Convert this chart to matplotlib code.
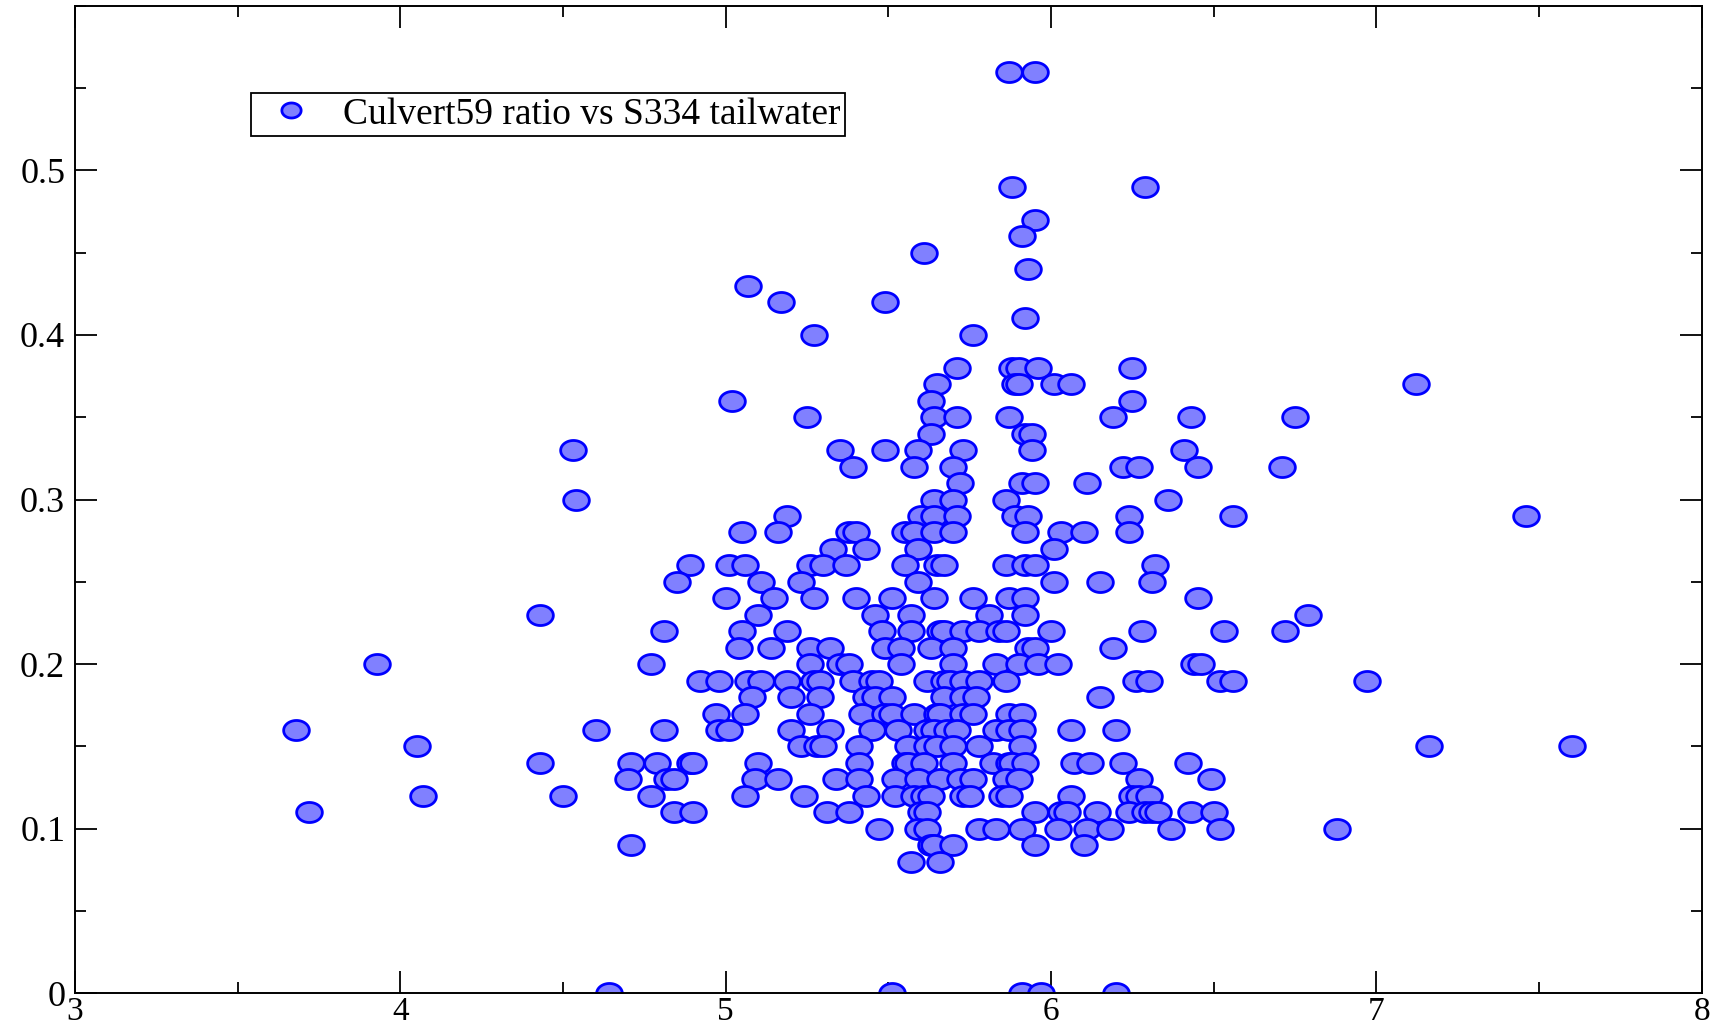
import numpy as np
import matplotlib.pyplot as plt
from matplotlib.path import Path
from matplotlib.ticker import MultipleLocator, FixedLocator, FormatStrFormatter

# S334 tailwater (x) and Culvert59 ratio (y)
tailwater = [
    5.87, 5.95,
    5.88, 6.29,
    5.95,
    5.91,
    5.61,
    5.93,
    5.07,
    5.17, 5.49,
    5.92,
    5.27, 5.76,
    5.71, 5.88, 5.90, 5.96, 6.25,
    5.65, 5.89, 5.90, 6.01, 6.06, 7.12,
    5.02, 5.63, 6.25,
    5.25, 5.64, 5.71, 5.87, 6.19, 6.43, 6.75,
    5.63, 5.92, 5.94,
    4.53, 5.35, 5.49, 5.59, 5.73, 5.94, 6.41,
    5.39, 5.58, 5.70, 6.22, 6.27, 6.45, 6.71,
    5.72, 5.91, 5.95, 6.11,
    4.54, 5.64, 5.70, 5.86, 6.36,
    5.19, 5.60, 5.64, 5.71, 5.89, 5.93, 6.24, 6.56, 7.46,
    5.05, 5.16, 5.38, 5.40, 5.55, 5.58, 5.64, 5.70, 5.92, 6.03, 6.10, 6.24,
    5.33, 5.43, 5.59, 6.01,
    4.89, 5.01, 5.06, 5.26, 5.30, 5.37, 5.55, 5.65, 5.67, 5.86, 5.92, 5.95, 6.32,
    4.85, 5.11, 5.23, 5.59, 6.01, 6.15, 6.31,
    5.00, 5.15, 5.27, 5.40, 5.51, 5.64, 5.76, 5.87, 5.92, 6.45,
    4.43, 5.10, 5.46, 5.57, 5.81, 5.92, 6.79,
    4.81, 5.05, 5.19, 5.48, 5.57, 5.66, 5.67, 5.73, 5.78, 5.84, 5.86, 6.00, 6.28, 6.53, 6.72,
    5.04, 5.14, 5.26, 5.32, 5.49, 5.54, 5.63, 5.70, 5.93, 5.95, 6.19,
    3.93, 4.77, 5.26, 5.35, 5.38, 5.54, 5.70, 5.83, 5.90, 5.96, 6.02, 6.44, 6.46,
    4.92, 4.98, 5.07, 5.11, 5.19, 5.27, 5.29, 5.39, 5.45, 5.47, 5.62, 5.67, 5.69, 5.73,
    5.78, 5.86, 6.26, 6.30, 6.52, 6.56, 6.97,
    5.08, 5.20, 5.29, 5.43, 5.46, 5.51, 5.67, 5.73, 5.77, 6.15,
    4.97, 5.06, 5.26, 5.42, 5.49, 5.51, 5.58, 5.65, 5.66, 5.73, 5.76, 5.87, 5.91,
    3.68, 4.60, 4.81, 4.98, 5.01, 5.20, 5.32, 5.45, 5.53, 5.62, 5.64, 5.68, 5.71, 5.83,
    5.87, 5.91, 6.06, 6.20,
    4.05, 5.23, 5.28, 5.30, 5.41, 5.56, 5.62, 5.65, 5.70, 5.78, 5.91, 7.16, 7.60,
    4.43, 4.71, 4.79, 4.89, 4.90, 5.10, 5.41, 5.55, 5.56, 5.61, 5.70, 5.82, 5.87, 5.88,
    5.92, 6.07, 6.12, 6.22, 6.42,
    4.70, 4.82, 4.84, 5.09, 5.16, 5.34, 5.41, 5.52, 5.59, 5.66, 5.72, 5.76, 5.86, 5.90,
    6.27, 6.49,
    4.07, 4.50, 4.77, 5.06, 5.24, 5.43, 5.52, 5.58, 5.61, 5.63, 5.73, 5.75, 5.85, 5.87,
    6.06, 6.25, 6.27, 6.30,
    3.72, 4.84, 4.90, 5.31, 5.38, 5.60, 5.62, 5.95, 6.03, 6.05, 6.14, 6.24, 6.29, 6.31,
    6.33, 6.43, 6.50,
    5.47, 5.59, 5.62, 5.78, 5.83, 5.91, 6.02, 6.11, 6.18, 6.37, 6.52, 6.88,
    4.71, 5.63, 5.64, 5.70, 5.95, 6.10,
    5.57, 5.66,
    4.64, 5.51, 5.91, 5.97, 6.20,
]

ratio = [
    0.56, 0.56,
    0.49, 0.49,
    0.47,
    0.46,
    0.45,
    0.44,
    0.43,
    0.42, 0.42,
    0.41,
    0.40, 0.40,
    0.38, 0.38, 0.38, 0.38, 0.38,
    0.37, 0.37, 0.37, 0.37, 0.37, 0.37,
    0.36, 0.36, 0.36,
    0.35, 0.35, 0.35, 0.35, 0.35, 0.35, 0.35,
    0.34, 0.34, 0.34,
    0.33, 0.33, 0.33, 0.33, 0.33, 0.33, 0.33,
    0.32, 0.32, 0.32, 0.32, 0.32, 0.32, 0.32,
    0.31, 0.31, 0.31, 0.31,
    0.30, 0.30, 0.30, 0.30, 0.30,
    0.29, 0.29, 0.29, 0.29, 0.29, 0.29, 0.29, 0.29, 0.29,
    0.28, 0.28, 0.28, 0.28, 0.28, 0.28, 0.28, 0.28, 0.28, 0.28, 0.28, 0.28,
    0.27, 0.27, 0.27, 0.27,
    0.26, 0.26, 0.26, 0.26, 0.26, 0.26, 0.26, 0.26, 0.26, 0.26, 0.26, 0.26, 0.26,
    0.25, 0.25, 0.25, 0.25, 0.25, 0.25, 0.25,
    0.24, 0.24, 0.24, 0.24, 0.24, 0.24, 0.24, 0.24, 0.24, 0.24,
    0.23, 0.23, 0.23, 0.23, 0.23, 0.23, 0.23,
    0.22, 0.22, 0.22, 0.22, 0.22, 0.22, 0.22, 0.22, 0.22, 0.22, 0.22, 0.22, 0.22, 0.22, 0.22,
    0.21, 0.21, 0.21, 0.21, 0.21, 0.21, 0.21, 0.21, 0.21, 0.21, 0.21,
    0.20, 0.20, 0.20, 0.20, 0.20, 0.20, 0.20, 0.20, 0.20, 0.20, 0.20, 0.20, 0.20,
    0.19, 0.19, 0.19, 0.19, 0.19, 0.19, 0.19, 0.19, 0.19, 0.19, 0.19, 0.19, 0.19, 0.19,
    0.19, 0.19, 0.19, 0.19, 0.19, 0.19, 0.19,
    0.18, 0.18, 0.18, 0.18, 0.18, 0.18, 0.18, 0.18, 0.18, 0.18,
    0.17, 0.17, 0.17, 0.17, 0.17, 0.17, 0.17, 0.17, 0.17, 0.17, 0.17, 0.17, 0.17,
    0.16, 0.16, 0.16, 0.16, 0.16, 0.16, 0.16, 0.16, 0.16, 0.16, 0.16, 0.16, 0.16, 0.16,
    0.16, 0.16, 0.16, 0.16,
    0.15, 0.15, 0.15, 0.15, 0.15, 0.15, 0.15, 0.15, 0.15, 0.15, 0.15, 0.15, 0.15,
    0.14, 0.14, 0.14, 0.14, 0.14, 0.14, 0.14, 0.14, 0.14, 0.14, 0.14, 0.14, 0.14, 0.14,
    0.14, 0.14, 0.14, 0.14, 0.14,
    0.13, 0.13, 0.13, 0.13, 0.13, 0.13, 0.13, 0.13, 0.13, 0.13, 0.13, 0.13, 0.13, 0.13,
    0.13, 0.13,
    0.12, 0.12, 0.12, 0.12, 0.12, 0.12, 0.12, 0.12, 0.12, 0.12, 0.12, 0.12, 0.12, 0.12,
    0.12, 0.12, 0.12, 0.12,
    0.11, 0.11, 0.11, 0.11, 0.11, 0.11, 0.11, 0.11, 0.11, 0.11, 0.11, 0.11, 0.11, 0.11,
    0.11, 0.11, 0.11,
    0.10, 0.10, 0.10, 0.10, 0.10, 0.10, 0.10, 0.10, 0.10, 0.10, 0.10, 0.10,
    0.09, 0.09, 0.09, 0.09, 0.09, 0.09,
    0.08, 0.08,
    0.00, 0.00, 0.00, 0.00, 0.00,
]

label = "Culvert59 ratio vs S334 tailwater"
yticks = [0, 0.1, 0.2, 0.3, 0.4, 0.5]

plt.rcParams['font.family'] = ['Liberation Serif', 'DejaVu Serif']

# slightly wide ellipse marker, like the xmgrace circles in the original
t = np.linspace(0, 2 * np.pi, 60)
ellipse = Path(np.column_stack([np.cos(t), 0.78 * np.sin(t)]), closed=True)

fig = plt.figure(figsize=(17.25, 10.3), dpi=100)
ax = fig.add_axes([0.0434, 0.0355, 0.9432, 0.959])

ax.plot(tailwater, ratio, linestyle='none', marker=ellipse, markersize=18.5,
        markerfacecolor='#8080ff', markeredgecolor='#0000ff', markeredgewidth=2,
        label=label)

ax.set_xlim(3, 8)
ax.set_ylim(0, 0.6)
ax.xaxis.set_major_locator(MultipleLocator(1))
ax.xaxis.set_minor_locator(MultipleLocator(0.5))
ax.yaxis.set_major_locator(FixedLocator(yticks))
ax.yaxis.set_minor_locator(MultipleLocator(0.05))
ax.yaxis.set_major_formatter(FormatStrFormatter('%g'))
ax.tick_params(which='both', direction='in', top=True, right=True, width=1.3,
               colors='black')
ax.tick_params(axis='y', labelsize=26)
ax.tick_params(axis='x', labelsize=24)
ax.tick_params(which='major', length=16)
ax.tick_params(axis='y', which='major', pad=7)
ax.tick_params(axis='x', which='major', pad=2)
ax.tick_params(which='minor', length=8)
for s in ax.spines.values():
    s.set_linewidth(1.4)

leg = ax.legend(loc='upper left', bbox_to_anchor=(0.108, 0.912), borderaxespad=0,
                fontsize=27, fancybox=False, framealpha=1, edgecolor='black',
                handlelength=1.9, handletextpad=0.45, borderpad=0.12, markerscale=0.75)
leg.get_frame().set_linewidth(1.3)

fig.savefig('out.png', dpi=100)
